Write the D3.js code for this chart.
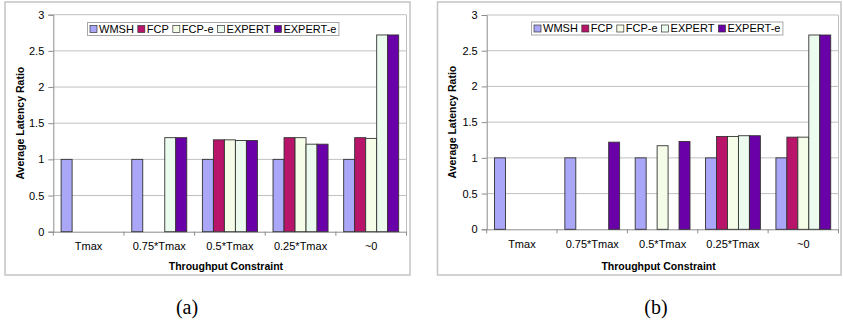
<!DOCTYPE html>
<meta charset="utf-8" />
<script src="https://d3js.org/d3.v7.min.js"></script>
<style>
  body { margin: 0; background: #fff; }
  text { font-family: "Liberation Sans", Arial, sans-serif; }
</style>
<div id="my_dataviz"></div>

<script>
  // shared data
  const categories = ['Tmax', '0.75*Tmax', '0.5*Tmax', '0.25*Tmax', '~0'];
  const seriesNames = ['WMSH', 'FCP', 'FCP-e', 'EXPERT', 'EXPERT-e'];
  const seriesColors = ['#aaa6f8', '#b8146a', '#f5fde9', '#ebfcef', '#6a00a8'];
  const yTicks = [0, 0.5, 1, 1.5, 2, 2.5, 3];

  // panel (a)
  const wmshA = [1, 1, 1, 1, 1];
  const fcpA = [null, null, 1.27, 1.3, 1.3];
  const fcpeA = [null, null, 1.27, 1.3, 1.29];
  const expertA = [null, 1.3, 1.26, 1.21, 2.72];
  const experteA = [null, 1.3, 1.26, 1.21, 2.72];

  // panel (b)
  const wmshB = [1, 1, 1, 1, 1];
  const fcpB = [null, null, null, 1.3, 1.29];
  const fcpeB = [null, null, 1.17, 1.3, 1.29];
  const expertB = [null, null, null, 1.31, 2.72];
  const experteB = [null, 1.22, 1.23, 1.31, 2.72];

  const svg = d3
    .select('#my_dataviz')
    .append('svg')
    .attr('width', 843)
    .attr('height', 323);

  function drawPanel(opt) {
    const series = opt.values;
    const g = svg.append('g');

    // outer frame
    g.append('rect')
      .attr('x', opt.box[0]).attr('y', opt.box[1])
      .attr('width', opt.box[2] - opt.box[0]).attr('height', opt.box[3] - opt.box[1])
      .attr('fill', '#fff').attr('stroke', '#c4c4c4').attr('stroke-width', 1.5);

    const x = d3.scaleBand().domain(categories).range([opt.left, opt.right]).padding(0);
    const xs = d3.scaleBand().domain(seriesNames).range([0, x.bandwidth()]).paddingOuter(0.71).paddingInner(0);
    const y = d3.scaleLinear().domain([0, 3]).range([opt.bottom, opt.top]);

    // gridlines
    g.append('g')
      .selectAll('line')
      .data(yTicks.filter((d) => d > 0))
      .join('line')
      .attr('x1', opt.left).attr('x2', opt.right)
      .attr('y1', (d) => y(d)).attr('y2', (d) => y(d))
      .attr('stroke', '#c0c0c0').attr('stroke-width', 1);
    g.append('line')
      .attr('x1', opt.right).attr('x2', opt.right)
      .attr('y1', opt.top).attr('y2', opt.bottom)
      .attr('stroke', '#c0c0c0');

    // y axis
    const yAxis = g.append('g')
      .attr('transform', `translate(${opt.left},0)`)
      .call(d3.axisLeft(y).tickValues(yTicks).tickSize(5).tickPadding(4).tickFormat(d3.format('')));
    yAxis.selectAll('line,path').attr('stroke', '#8c8c8c');
    yAxis.selectAll('text').style('font-size', '11px').attr('fill', '#000')
      .style('font-family', '"Liberation Sans", Arial, sans-serif');

    // x axis labels
    const xAxis = g.append('g')
      .attr('transform', `translate(0,${opt.bottom})`)
      .call(d3.axisBottom(x).tickSize(0).tickPadding(11));
    xAxis.select('.domain').attr('stroke', '#8c8c8c');
    xAxis.selectAll('text').style('font-size', '11px').attr('fill', '#000')
      .style('font-family', '"Liberation Sans", Arial, sans-serif');
    // category separator ticks
    g.append('g')
      .selectAll('line')
      .data(d3.range(categories.length + 1))
      .join('line')
      .attr('x1', (i) => opt.left + i * x.step()).attr('x2', (i) => opt.left + i * x.step())
      .attr('y1', opt.bottom).attr('y2', opt.bottom + 4)
      .attr('stroke', '#8c8c8c');

    // bars
    seriesNames.forEach((name, si) => {
      const vals = series[si];
      g.append('g')
        .selectAll('rect')
        .data(categories.map((c, i) => ({ c: c, v: vals[i] })).filter((d) => d.v !== null))
        .join('rect')
        .attr('x', (d) => x(d.c) + xs(name))
        .attr('y', (d) => y(d.v))
        .attr('width', xs.bandwidth())
        .attr('height', (d) => y(0) - y(d.v))
        .attr('fill', seriesColors[si])
        .attr('stroke', '#333')
        .attr('stroke-width', 0.9);
    });

    // axis titles
    g.append('text')
      .attr('transform', `translate(${opt.yTitleX},${(opt.top + opt.bottom) / 2}) rotate(-90)`)
      .attr('text-anchor', 'middle')
      .attr('dy', '0.35em')
      .style('font-size', '10.5px')
      .style('font-weight', 'bold')
      .text('Average Latency Ratio');
    g.append('text')
      .attr('x', (opt.left + opt.right) / 2 - 4)
      .attr('y', opt.xTitleY)
      .attr('text-anchor', 'middle')
      .attr('dy', '0.35em')
      .style('font-size', '10.5px')
      .style('font-weight', 'bold')
      .text('Throughput Constraint');

    // legend
    const leg = g.append('g');
    const legBox = leg.append('rect')
      .attr('fill', '#fff').attr('stroke', '#a8a8a8').attr('stroke-width', 1);
    let cx = opt.legendX + 2.5;
    const ly = opt.legendY;
    seriesNames.forEach((name, si) => {
      leg.append('rect')
        .attr('x', cx).attr('y', ly - 3.5)
        .attr('width', 7).attr('height', 7)
        .attr('fill', seriesColors[si])
        .attr('stroke', '#333').attr('stroke-width', 0.7);
      const t = leg.append('text')
        .attr('x', cx + 9).attr('y', ly)
        .attr('dy', '0.35em')
        .style('font-size', '11px')
        .text(name);
      cx += 9 + t.node().getComputedTextLength() + 4;
    });
    legBox
      .attr('x', opt.legendX).attr('y', ly - 6.5)
      .attr('width', cx - opt.legendX - 1.5).attr('height', 13);

    // caption
    svg.append('text')
      .attr('x', opt.captionX).attr('y', 307)
      .attr('text-anchor', 'middle')
      .attr('dy', '0.35em')
      .style('font-family', '"Liberation Serif", "Times New Roman", serif')
      .style('font-size', '20px')
      .text(opt.caption);
  }

  drawPanel({
    values: [wmshA, fcpA, fcpeA, expertA, experteA],
    box: [5, 2, 410, 275],
    left: 53.3, right: 406.5, top: 14.7, bottom: 231.7,
    yTitleX: 20, xTitleY: 266,
    legendX: 87.5, legendY: 29,
    captionX: 187, caption: '(a)'
  });

  drawPanel({
    values: [wmshB, fcpB, fcpeB, expertB, experteB],
    box: [437.5, 2, 841, 275],
    left: 486.7, right: 838.5, top: 15, bottom: 229.3,
    yTitleX: 452, xTitleY: 266,
    legendX: 531.5, legendY: 28.5,
    captionX: 656, caption: '(b)'
  });
</script>
